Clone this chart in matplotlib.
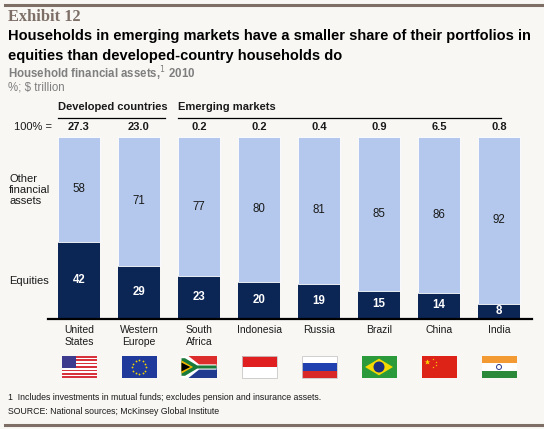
import matplotlib
matplotlib.use("Agg")
import matplotlib.pyplot as plt
from matplotlib.patches import Rectangle, Polygon, Ellipse
import numpy as np

plt.rcParams['font.family'] = ['Liberation Sans', 'DejaVu Sans']

countries = ["United\nStates", "Western\nEurope", "South\nAfrica", "Indonesia",
             "Russia", "Brazil", "China", "India"]
totals = ["27.3", "23.0", "0.2", "0.2", "0.4", "0.9", "6.5", "0.8"]
equities = [42, 29, 23, 20, 19, 15, 14, 8]
other = [58, 71, 77, 80, 81, 85, 86, 92]
flag_codes = ["us", "eu", "za", "id", "ru", "br", "cn", "in"]

W, H = 544, 429
BG = "#f8f7f4"
DARK = "#0b2554"
LIGHT = "#b3c8ec"
BROWN = "#7d6e66"

fig = plt.figure(figsize=(W / 100, H / 100), dpi=100, facecolor=BG)

def fx(x):
    return x / W

def fy(y):
    return 1 - y / H

# rules
fig.add_artist(plt.Line2D([fx(5), fx(544)], [fy(5), fy(5)], color=BROWN, lw=2.2))
fig.add_artist(plt.Line2D([fx(5), fx(544)], [fy(425), fy(425)], color=BROWN, lw=2.2))

fig.text(fx(8), fy(17), "Exhibit 12", family=["Liberation Serif", "DejaVu Serif"],
         fontweight="bold", fontsize=11.8, color=BROWN, va="center", ha="left")
fig.text(fx(8), fy(36), "Households in emerging markets have a smaller share of their portfolios in",
         fontweight="bold", fontsize=10.55, color="#000000", va="center", ha="left")
fig.text(fx(8), fy(56), "equities than developed-country households do",
         fontweight="bold", fontsize=10.55, color="#000000", va="center", ha="left")
fig.text(fx(8), fy(74), "Household financial assets,$^{1}$ 2010",
         fontweight="bold", fontsize=8.3, color="#7f7f7f", va="center", ha="left")
fig.text(fx(8), fy(88), "%; $ trillion", fontsize=8.3, color="#7f7f7f", va="center", ha="left")

# main axes: x from 48 to 532 px, y from 137 (100) to 318 (0)
x0, x1 = 48, 532
ytop, ybot = 137, 318
ax = fig.add_axes([fx(x0), fy(ybot), (x1 - x0) / W, (ybot - ytop) / H])
ax.set_facecolor("none")
c0, step = 79, 60
ax.set_xlim((x0 - c0) / step, (x1 - c0) / step)
ax.set_ylim(0, 100)
for s in ax.spines.values():
    s.set_visible(False)
ax.set_xticks([])
ax.set_yticks([])

xs = np.arange(len(countries))
ax.bar(xs, equities, width=0.7, color=DARK, edgecolor="none")
ax.bar(xs, other, width=0.7, bottom=equities, color=LIGHT, edgecolor="white", linewidth=0.6)
ax.axhline(-0.8, color="black", lw=1.6, clip_on=False)

pxy = (ybot - ytop) / 100.0  # px per y unit

for i in range(len(xs)):
    ax.text(xs[i], equities[i] / 2, str(equities[i]), ha="center", va="center",
            color="white", fontweight="bold", fontsize=8.3)
    ax.text(xs[i], equities[i] + other[i] / 2, str(other[i]), ha="center", va="center",
            color="#1a1a1a", fontsize=8.3)
    ax.text(xs[i], 105.5, totals[i], ha="center", va="center", fontweight="bold",
            fontsize=8, color="#1a1a1a")
    ax.text(xs[i], -(325 - ybot) / pxy, countries[i], ha="center", va="top", fontsize=7.5,
            color="#1a1a1a", linespacing=1.2)

fig.text(fx(52), fy(127), "100% =", ha="right", va="center", fontsize=8, color="#1a1a1a")
fig.text(fx(9), fy(190), "Other\nfinancial\nassets", ha="left", va="center", fontsize=8,
         color="#1a1a1a", linespacing=1.15)
fig.text(fx(9), fy(281), "Equities", ha="left", va="center", fontsize=8, color="#1a1a1a")

# group headers
fig.text(fx(58), fy(107), "Developed countries", ha="left", va="center", fontsize=8,
         fontweight="bold", color="#1a1a1a")
fig.add_artist(plt.Line2D([fx(58), fx(165)], [fy(118), fy(118)], color="black", lw=0.9))
fig.text(fx(178), fy(107), "Emerging markets", ha="left", va="center", fontsize=8,
         fontweight="bold", color="#1a1a1a")
fig.add_artist(plt.Line2D([fx(178), fx(501)], [fy(118), fy(118)], color="black", lw=0.9))

# flags (data coordinates, below the axis)
fw = 35 / step
ft, fb = -(356 - ybot) / pxy, -(378 - ybot) / pxy
fh = ft - fb

def rect(x, y, w, h, c):
    ax.add_patch(Rectangle((x, y), w, h, facecolor=c, edgecolor="none", clip_on=False))

def poly(pts, c):
    ax.add_patch(Polygon(pts, closed=True, facecolor=c, edgecolor="none", clip_on=False))

for i, code in enumerate(flag_codes):
    L = xs[i] - fw / 2
    B = fb
    if code == "us":
        n = 13
        for k in range(n):
            rect(L, B + fh * k / n, fw, fh / n, "#d8323c" if k % 2 == 0 else "white")
        rect(L, B + fh * 6 / 13, fw * 0.42, fh * 7 / 13, "#3c3b8e")
    elif code == "eu":
        rect(L, B, fw, fh, "#1f3a9a")
        cx, cy = xs[i], B + fh / 2
        for k in range(12):
            a = 2 * np.pi * k / 12
            ax.plot(cx + 7 / step * np.cos(a), cy + 7 / pxy * np.sin(a), "o",
                    ms=1.3, color="#f2d200", mec="none", clip_on=False)
    elif code == "za":
        rect(L, B + fh / 2, fw, fh / 2, "#dc2c2c")
        rect(L, B, fw, fh / 2, "#1f3a8f")
        poly([(L, B + fh), (L + fw * 0.2, B + fh), (L + fw * 0.5, B + fh * 0.62),
              (L + fw, B + fh * 0.62), (L + fw, B + fh * 0.38), (L + fw * 0.5, B + fh * 0.38),
              (L + fw * 0.2, B), (L, B)], "white")
        poly([(L, B + fh * 0.9), (L + fw * 0.1, B + fh * 0.9), (L + fw * 0.45, B + fh * 0.57),
              (L + fw, B + fh * 0.57), (L + fw, B + fh * 0.43), (L + fw * 0.45, B + fh * 0.43),
              (L + fw * 0.1, B + fh * 0.1), (L, B + fh * 0.1)], "#1a7a3a")
        poly([(L, B + fh * 0.8), (L + fw * 0.33, B + fh / 2), (L, B + fh * 0.2)], "#f2b600")
        poly([(L, B + fh * 0.7), (L + fw * 0.25, B + fh / 2), (L, B + fh * 0.3)], "black")
    elif code == "id":
        rect(L, B, fw, fh, "white")
        rect(L, B + fh / 2, fw, fh / 2, "#e02020")
        ax.add_patch(Rectangle((L, B), fw, fh, facecolor="none", edgecolor="#c8c8c8",
                               lw=0.6, clip_on=False))
    elif code == "ru":
        rect(L, B + 2 * fh / 3, fw, fh / 3, "white")
        rect(L, B + fh / 3, fw, fh / 3, "#2040b0")
        rect(L, B, fw, fh / 3, "#d82828")
        ax.add_patch(Rectangle((L, B), fw, fh, facecolor="none", edgecolor="#c8c8c8",
                               lw=0.6, clip_on=False))
    elif code == "br":
        rect(L, B, fw, fh, "#2a9a3a")
        cx, cy = xs[i], B + fh / 2
        poly([(L + fw * 0.1, cy), (cx, B + fh * 0.88), (L + fw * 0.9, cy), (cx, B + fh * 0.12)],
             "#f5d800")
        ax.add_patch(Ellipse((cx, cy), 11 / step, 11 / pxy, facecolor="#1a2f80",
                             edgecolor="none", clip_on=False))
    elif code == "cn":
        rect(L, B, fw, fh, "#dd2218")
        ax.plot(L + fw * 0.17, B + fh * 0.72, "*", ms=4, color="#ffd800", mec="none",
                clip_on=False)
        for (ddx, ddy) in [(0.33, 0.88), (0.4, 0.75), (0.4, 0.6), (0.33, 0.48)]:
            ax.plot(L + fw * ddx, B + fh * ddy, "*", ms=1.6, color="#ffd800", mec="none",
                    clip_on=False)
    elif code == "in":
        rect(L, B + 2 * fh / 3, fw, fh / 3, "#f39a33")
        rect(L, B + fh / 3, fw, fh / 3, "white")
        rect(L, B, fw, fh / 3, "#2a8a3a")
        ax.add_patch(Ellipse((xs[i], B + fh / 2), 5 / step, 5 / pxy, facecolor="none",
                             edgecolor="#2a3a8a", lw=0.7, clip_on=False))

fig.text(fx(8), fy(397), "1  Includes investments in mutual funds; excludes pension and insurance assets.",
         ha="left", va="center", fontsize=6.3, color="#1a1a1a")
fig.text(fx(8), fy(411), "SOURCE: National sources; McKinsey Global Institute",
         ha="left", va="center", fontsize=6.3, color="#1a1a1a")

fig.savefig("out.png", dpi=100, facecolor=BG)
